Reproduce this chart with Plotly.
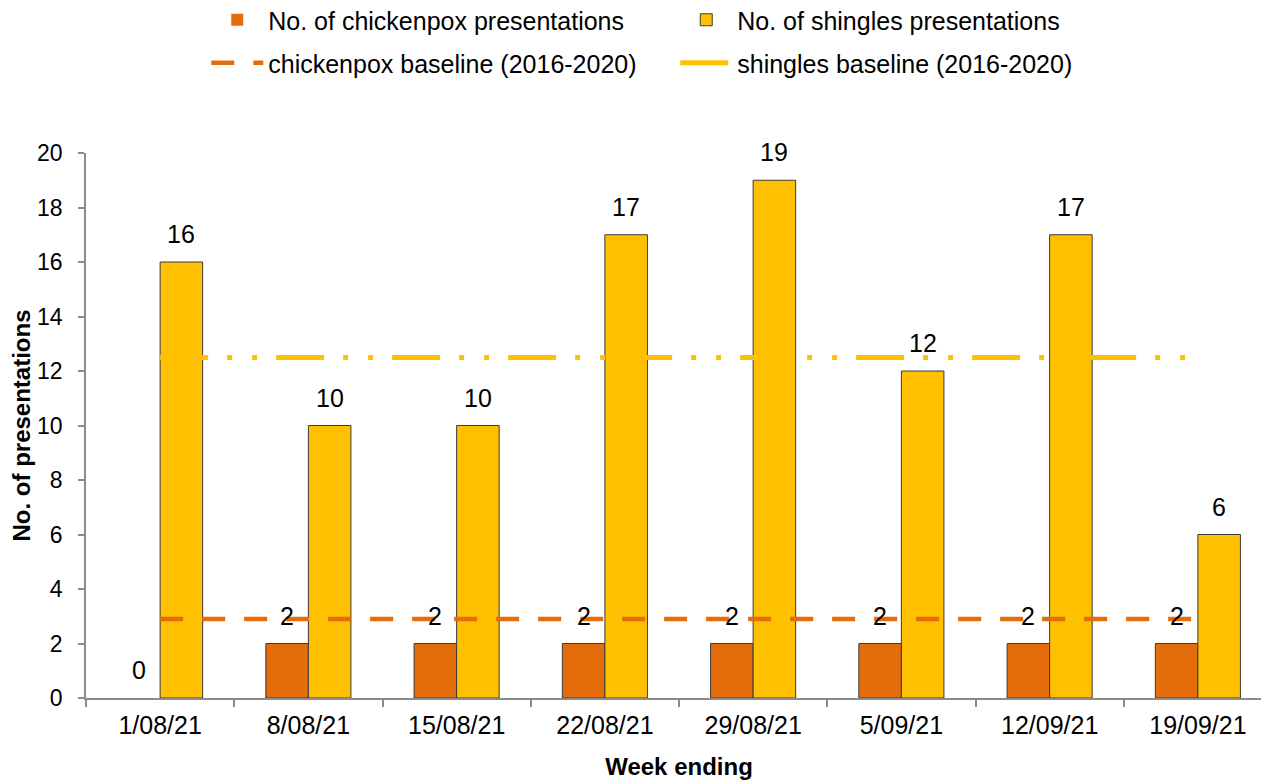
import plotly.graph_objects as go

weeks = ["1/08/21", "8/08/21", "15/08/21", "22/08/21", "29/08/21", "5/09/21", "12/09/21", "19/09/21"]
chickenpox = [0, 2, 2, 2, 2, 2, 2, 2]
shingles = [16, 10, 10, 17, 19, 12, 17, 6]
chickenpox_baseline = [2.9] * 8
shingles_baseline = [12.5] * 8

ORANGE = "#E46C0A"
YELLOW = "#FFC000"
FONT = "Liberation Sans, Arial, sans-serif"

W, H = 1269, 784
ML, MR, MT, MB = 78, 5, 145, 94
BARGAP = 0.426

outline = lambda vals: [0 if v == 0 else 1 for v in vals]

fig = go.Figure()
fig.add_trace(go.Bar(x=weeks, y=chickenpox, name="No. of chickenpox presentations",
                     marker=dict(color=ORANGE, line=dict(color="#3a3a3a", width=outline(chickenpox))),
                     legend="legend"))
fig.add_trace(go.Bar(x=weeks, y=shingles, name="No. of shingles presentations",
                     marker=dict(color=YELLOW, line=dict(color="#3a3a3a", width=outline(shingles))),
                     legend="legend"))
fig.add_trace(go.Scatter(x=weeks, y=chickenpox_baseline, mode="lines",
                         name="chickenpox baseline (2016-2020)",
                         line=dict(color=ORANGE, width=4.5, dash="23px,19px"),
                         legend="legend2"))
fig.add_trace(go.Scatter(x=weeks, y=shingles_baseline, mode="lines",
                         name="shingles baseline (2016-2020)",
                         line=dict(color=YELLOW, width=5, dash="48px,19px,5px,20px,5px,19px"),
                         legend="legend2"))

# data labels
plot_w = W - ML - MR
cat_w = plot_w / len(weeks)
bar_w = cat_w * (1 - BARGAP) / 2
annotations = []
for series, sign in ((chickenpox, -1), (shingles, 1)):
    for wk, v in zip(weeks, series):
        annotations.append(dict(x=wk, y=v, text=str(v), showarrow=False,
                                xshift=sign * bar_w / 2, yshift=28,
                                yanchor="middle", xanchor="center",
                                font=dict(family=FONT, size=25, color="#000")))

legend_common = dict(orientation="h", x=0.1014, xanchor="left", yanchor="middle",
                     font=dict(family=FONT, size=25), entrywidth=402, entrywidthmode="pixels",
                     itemwidth=52, bgcolor="rgba(0,0,0,0)", traceorder="normal")

fig.update_layout(
    width=W, height=H,
    margin=dict(l=ML, r=MR, t=MT, b=MB, autoexpand=False),
    paper_bgcolor="white", plot_bgcolor="white",
    barmode="group", bargap=BARGAP, bargroupgap=0,
    font=dict(family=FONT, color="#000"),
    annotations=annotations,
    showlegend=True,
    legend=dict(y=1.244, **legend_common),
    legend2=dict(y=1.165, **legend_common),
    xaxis=dict(type="category", showline=True, linecolor="#8c8c8c", linewidth=1.5,
               ticks="outside", tickson="boundaries", ticklen=7, tickcolor="#8c8c8c",
               tickwidth=1.5, tickfont=dict(size=25, family=FONT), ticklabelstandoff=4,
               title=dict(text="<b>Week ending</b>", font=dict(size=24, family=FONT), standoff=20),
               showgrid=False, zeroline=False, automargin=False),
    yaxis=dict(range=[0, 20], dtick=2, showline=True, linecolor="#8c8c8c", linewidth=1.5,
               ticks="outside", ticklen=6, tickcolor="#8c8c8c", tickwidth=1.5,
               tickfont=dict(size=23, family=FONT), ticklabelstandoff=11,
               title=dict(text="<b>No. of presentations</b>", font=dict(size=24, family=FONT), standoff=0),
               showgrid=False, zeroline=False, automargin=False),
)

fig.write_html("out.html")
